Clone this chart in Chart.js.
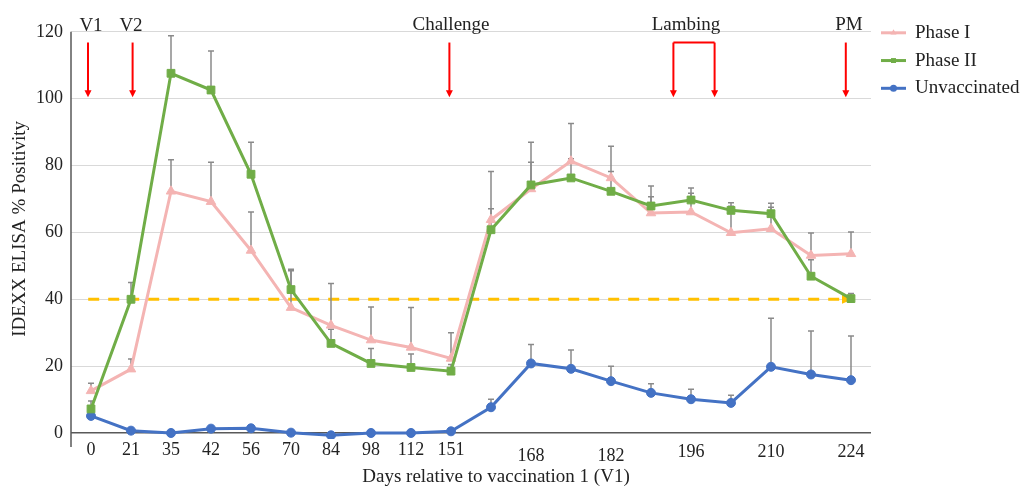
<!DOCTYPE html>
<html><head><meta charset="utf-8">
<script src="https://cdn.jsdelivr.net/npm/chart.js@4.4.1/dist/chart.umd.min.js"></script>
<style>html,body{margin:0;padding:0;background:#fff;}#wrap{width:1021px;height:492px;position:relative;}</style>
</head><body><div id="wrap"><canvas id="c"></canvas></div>
<script>
// ---- data ----
const categories = ['0','21','35','42','56','70','84','98','112','151','','168','','182','','196','','210','','224'];
const phase1    = [12.6, 19.1, 72.3, 69.2, 54.6, 37.5, 32.2, 27.8, 25.6, 22.3, 63.8, 73.0, 81.3, 76.3, 65.8, 66.1, 59.9, 61.1, 53.1, 53.6];
const phase1Err = [2.3, 3.0, 9.4, 11.8, 11.5, 11.0, 12.5, 9.9, 11.9, 7.7, 14.4, 14.0, 11.3, 9.5, 8.1, 7.2, 9.0, 7.6, 6.7, 6.5];
const phase2    = [7.2, 40.0, 107.6, 102.6, 77.4, 42.9, 26.8, 20.8, 19.6, 18.5, 60.8, 74.2, 76.3, 72.3, 67.9, 69.7, 66.6, 65.6, 46.9, 40.2];
const phase2Err = [2.4, 5.0, 11.2, 11.7, 9.6, 6.1, 4.2, 4.5, 4.0, 2.0, 6.3, 6.8, 5.7, 5.9, 2.8, 2.0, 1.2, 1.9, 4.9, 1.5];
const unvacc    = [5.1, 0.7, 0.0, 1.3, 1.4, 0.1, -0.7, 0.0, 0.0, 0.5, 7.7, 20.8, 19.2, 15.5, 12.0, 10.1, 9.0, 19.8, 17.5, 15.8];
const unvaccErr = [1.0, 0.5, 0.3, 0.6, 0.6, 0.3, 0.3, 0.2, 0.2, 0.3, 2.4, 5.7, 5.6, 4.5, 2.7, 3.0, 2.3, 14.5, 13.0, 13.2];
const yTicks = [0, 20, 40, 60, 80, 100, 120];
const axisBottom = -4.2;   // vertical axis line runs down to this value
const cutoff = 40;
// event markers: label, label position (category index), arrow positions (category index)
const eventNames  = ['V1', 'V2', 'Challenge', 'Lambing', 'PM'];
const eventLabelAt = [0, 1.0, 9.0, 14.875, 18.95];
const eventArrows  = [[-0.075], [1.04], [8.96], [14.56, 15.59], [18.87]];
const arrowFrom = 116.8, arrowTo = 100.4;

const FONT = "'Liberation Serif','Times New Roman',serif";
const COL = {p1:'#F4B4B3', p2:'#70AD47', un:'#4472C4', err:'#8A8A8A', gold:'#FFC000', red:'#FF0000', text:'#222'};
// extra downward shift (px) of some x tick labels, as in the source figure
const labelDrop = i => (i === 11 || i === 13) ? 6 : (i >= 15 ? 2 : 0);

function marker(ctx, style, x, y, r){
  ctx.beginPath();
  if(style==='triangle'){
    ctx.moveTo(x, y - r); ctx.lineTo(x + r*0.866, y + r*0.5); ctx.lineTo(x - r*0.866, y + r*0.5); ctx.closePath();
  } else if(style==='rect'){
    const s = r*0.707; ctx.rect(x - s, y - s, 2*s, 2*s);
  } else { ctx.arc(x, y, r, 0, Math.PI*2); }
  ctx.fill();
}

const decor = {
  id:'decor',
  beforeDatasetsDraw(chart){
    const {ctx, chartArea:a, scales:{x, y}} = chart;
    ctx.save();
    ctx.strokeStyle='#595959'; ctx.lineWidth=1.5;
    ctx.beginPath(); ctx.moveTo(a.left, y.getPixelForValue(yTicks[yTicks.length-1])); ctx.lineTo(a.left, y.getPixelForValue(axisBottom)); ctx.stroke();
    const yc = y.getPixelForValue(cutoff);
    const x0 = x.getPixelForValue(-0.07), x1 = x.getPixelForValue(19.05);
    ctx.strokeStyle=COL.gold; ctx.lineWidth=3; ctx.setLineDash([11,9]);
    ctx.beginPath(); ctx.moveTo(x0, yc); ctx.lineTo(x1 - 10, yc); ctx.stroke();
    ctx.setLineDash([]);
    ctx.fillStyle=COL.gold; ctx.beginPath(); ctx.moveTo(x1, yc); ctx.lineTo(x1-11, yc-4.5); ctx.lineTo(x1-11, yc+4.5); ctx.closePath(); ctx.fill();
    ctx.strokeStyle=COL.err; ctx.lineWidth=1.5;
    chart.data.datasets.forEach(ds=>{
      ds.errors.forEach((e,j)=>{
        const px = x.getPixelForValue(j);
        const y0 = y.getPixelForValue(ds.data[j]);
        const yt = y.getPixelForValue(ds.data[j] + e);
        ctx.beginPath(); ctx.moveTo(px, y0); ctx.lineTo(px, yt);
        ctx.moveTo(px-3, yt); ctx.lineTo(px+3, yt); ctx.stroke();
      });
    });
    ctx.restore();
  },
  afterDraw(chart){
    const {ctx, chartArea:a, scales:{x, y}} = chart;
    ctx.save();
    ctx.fillStyle=COL.text; ctx.font='19px '+FONT; ctx.textAlign='center'; ctx.textBaseline='alphabetic';
    const yA = y.getPixelForValue(arrowFrom), yB = y.getPixelForValue(arrowTo);
    eventNames.forEach((name,i)=>{
      const base = (i < 2) ? a.top + 12.5 : a.top + 11;
      ctx.fillStyle=COL.text;
      ctx.fillText(name, x.getPixelForValue(eventLabelAt[i]), base);
      const xs = eventArrows[i].map(v=>x.getPixelForValue(v));
      ctx.strokeStyle=COL.red; ctx.fillStyle=COL.red; ctx.lineWidth=2;
      xs.forEach(px=>{
        ctx.beginPath(); ctx.moveTo(px, yA); ctx.lineTo(px, yB - 6); ctx.stroke();
        ctx.beginPath(); ctx.moveTo(px, yB); ctx.lineTo(px-3.5, yB-7); ctx.lineTo(px+3.5, yB-7); ctx.closePath(); ctx.fill();
      });
      if(xs.length > 1){
        ctx.beginPath(); ctx.moveTo(xs[0], yA); ctx.lineTo(xs[xs.length-1], yA); ctx.stroke();
      }
    });
    ctx.fillStyle=COL.text; ctx.font='19px '+FONT; ctx.textAlign='center'; ctx.textBaseline='middle';
    ctx.fillText('Days relative to vaccination 1 (V1)', (a.left + a.right)/2 + 25, chart.height - 15);
    const lx = a.right + 10;
    ctx.textAlign='left';
    chart.data.datasets.forEach((ds,i)=>{
      const ly = a.top + 14 + i*27.75;
      ctx.strokeStyle=ds.borderColor; ctx.lineWidth=3;
      ctx.beginPath(); ctx.moveTo(lx, ly); ctx.lineTo(lx+25, ly); ctx.stroke();
      ctx.fillStyle=ds.borderColor; marker(ctx, ds.pointStyle, lx+12.5, ly, 3.5);
      ctx.fillStyle=COL.text; ctx.fillText(ds.label, lx + 34, ly);
    });
    ctx.restore();
  }
};

const ds = (label, data, errors, color, style, r, order) => ({
  label, data, errors, borderColor:color, backgroundColor:color, pointStyle:style, pointRadius:r,
  pointBackgroundColor:color, pointBorderColor:color, pointBorderWidth:1, borderWidth:3, tension:0, order
});

new Chart(document.getElementById('c'), {
  type:'line',
  data:{ labels:categories, datasets:[
    ds('Phase I', phase1, phase1Err, COL.p1, 'triangle', 5.5, 1),
    ds('Phase II', phase2, phase2Err, COL.p2, 'rect', 5.5, 0),
    ds('Unvaccinated', unvacc, unvaccErr, COL.un, 'circle', 4.5, 2)
  ]},
  options:{
    responsive:true, maintainAspectRatio:false, animation:false, events:[],
    layout:{padding:{left:5, top:18, right:150, bottom:0}},
    plugins:{legend:{display:false}, tooltip:{enabled:false}},
    scales:{
      x:{ type:'category', offset:true, grid:{display:false, drawTicks:false}, border:{display:false},
          ticks:{color:COL.text, padding:0, maxRotation:0, autoSkip:false,
                 font:c => ({family:FONT, size:18, lineHeight:(21.6 + 2*labelDrop(c.index))/18})},
          afterFit(s){ s.height = 53; } },
      y:{ min:-1.8, max:123.9,
          grid:{ color:c => (c.tick && c.tick.value===0) ? '#595959' : '#D9D9D9',
                 lineWidth:c => (c.tick && c.tick.value===0) ? 1.5 : 1, drawTicks:false },
          border:{display:false},
          afterBuildTicks(s){ s.ticks = yTicks.map(v=>({value:v})); },
          ticks:{color:COL.text, font:{family:FONT, size:18}, padding:8},
          title:{display:true, text:'IDEXX ELISA % Positivity', color:COL.text, font:{family:FONT, size:19}, padding:{top:4, bottom:4}},
          afterFit(s){ s.width = 66; } }
    }
  },
  plugins:[decor]
});
</script></body></html>
